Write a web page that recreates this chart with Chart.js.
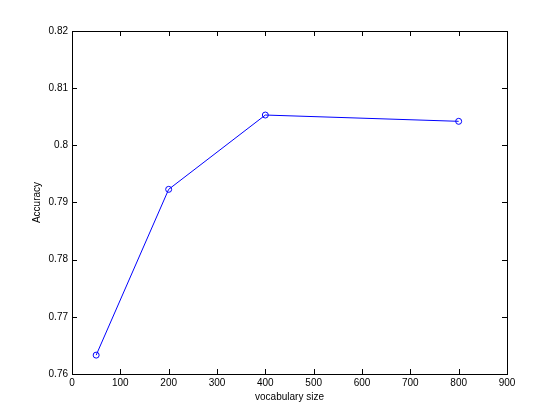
<!DOCTYPE html>
<html>
<head>
<meta charset="utf-8">
<script src="https://cdn.jsdelivr.net/npm/chart.js@4/dist/chart.umd.min.js"></script>
<style>
  html, body { margin: 0; padding: 0; background: #fff; }
  #wrap { width: 560px; height: 420px; }
</style>
</head>
<body>
<div id="wrap"><canvas id="accChart" width="560" height="420"></canvas></div>
<script>
// data
const vocabSizes = [50, 200, 400, 800];
const accuracy = [0.7633, 0.7923, 0.8053, 0.8042];
const xTicks = [0, 100, 200, 300, 400, 500, 600, 700, 800, 900];
const yTicks = [0.76, 0.77, 0.78, 0.79, 0.8, 0.81, 0.82];

const axisFont = { family: 'Liberation Sans, Arial, sans-serif', size: 10 };

// MATLAB style box with inward ticks on all four sides
const boxTicks = {
    id: 'boxTicks',
    afterDraw(chart) {
        const { ctx, chartArea: a, scales } = chart;
        const len = 5;
        ctx.save();
        ctx.strokeStyle = '#000';
        ctx.lineWidth = 1;
        ctx.strokeRect(Math.round(a.left) + 0.5, Math.round(a.top) + 0.5,
            Math.round(a.right - a.left), Math.round(a.bottom - a.top));
        ctx.beginPath();
        xTicks.forEach(v => {
            const x = Math.round(scales.x.getPixelForValue(v)) + 0.5;
            ctx.moveTo(x, a.bottom); ctx.lineTo(x, a.bottom - len);
            ctx.moveTo(x, a.top); ctx.lineTo(x, a.top + len);
        });
        yTicks.forEach(v => {
            const y = Math.round(scales.y.getPixelForValue(v)) + 0.5;
            ctx.moveTo(a.left, y); ctx.lineTo(a.left + len, y);
            ctx.moveTo(a.right, y); ctx.lineTo(a.right - len, y);
        });
        ctx.stroke();
        ctx.restore();
    }
};

const ctx = document.getElementById('accChart').getContext('2d');
new Chart(ctx, {
    type: 'line',
    data: {
        datasets: [{
            data: vocabSizes.map((v, i) => ({ x: v, y: accuracy[i] })),
            borderColor: '#0000ff',
            borderWidth: 1,
            pointRadius: 3,
            pointBorderWidth: 1,
            pointBackgroundColor: 'rgba(0,0,0,0)',
            pointBorderColor: '#0000ff',
            tension: 0
        }]
    },
    plugins: [boxTicks],
    options: {
        responsive: false,
        animation: false,
        layout: { padding: { top: 31, right: 53, left: 0, bottom: 0 } },
        plugins: { legend: { display: false }, tooltip: { enabled: false } },
        scales: {
            x: {
                type: 'linear',
                min: 0,
                max: 900,
                afterBuildTicks: s => { s.ticks = xTicks.map(v => ({ value: v })); },
                afterFit: s => { s.height = 46; },
                grid: { display: false, drawTicks: false },
                border: { display: false },
                ticks: { color: '#000', font: axisFont, padding: 3, maxRotation: 0 },
                title: {
                    display: true, text: 'vocabulary size', color: '#000',
                    font: axisFont, padding: { top: 0, bottom: 17 }
                }
            },
            y: {
                type: 'linear',
                min: 0.76,
                max: 0.82,
                afterBuildTicks: s => { s.ticks = yTicks.map(v => ({ value: v })); },
                afterFit: s => { s.width = 72; },
                grid: { display: false, drawTicks: false },
                border: { display: false },
                ticks: {
                    color: '#000', font: axisFont, padding: 4,
                    callback: v => String(+v.toFixed(2))
                },
                title: {
                    display: true, text: 'Accuracy', color: '#000',
                    font: axisFont, padding: { top: 31, bottom: 0 }
                }
            }
        }
    }
});
</script>
</body>
</html>
